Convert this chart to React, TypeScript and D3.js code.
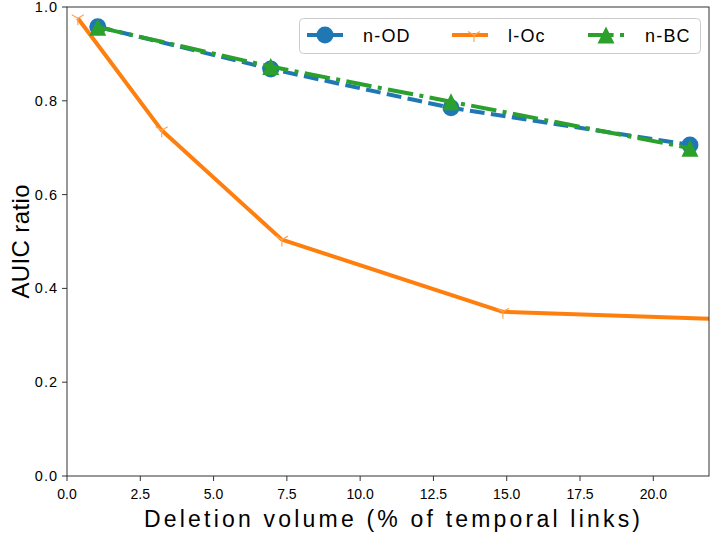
import React from "react";
import * as d3 from "d3";

const odX = [1.05, 6.95, 13.1, 21.25];
const odY = [0.958, 0.868, 0.785, 0.706];
const ocX = [0.37, 3.23, 7.33, 14.87, 25.0];
const ocY = [0.976, 0.737, 0.504, 0.35, 0.329];
const bcX = [1.05, 6.95, 13.1, 21.25];
const bcY = [0.957, 0.873, 0.798, 0.699];
const xTicks = [0, 2.5, 5, 7.5, 10, 12.5, 15, 17.5, 20];
const yTicks = [0, 0.2, 0.4, 0.6, 0.8, 1.0];
const seriesNames = ["n-OD", "l-Oc", "n-BC"];
const colors = ["#1f77b4", "#ff7f0e", "#2ca02c"];

const W = 714, H = 536;
const L = 67, R = 709, T = 7, B = 476;
const FONT = "'Liberation Sans', Arial, sans-serif";

function triDown(cx: number, cy: number, s: number) {
  const a = Math.cos(Math.PI / 6) * s, b = 0.5 * s;
  return `M${cx},${cy}L${cx},${cy + s}M${cx},${cy}L${cx - a},${cy - b}M${cx},${cy}L${cx + a},${cy - b}`;
}
function triUp(cx: number, cy: number, s: number) {
  return `M${cx},${cy - s}L${cx - s},${cy + s}L${cx + s},${cy + s}Z`;
}

export default function App() {
  const x = d3.scaleLinear().domain([0, 21.9]).range([L, R]);
  const y = d3.scaleLinear().domain([0, 1]).range([B, T]);
  const line = d3.line<[number, number]>().x(d => x(d[0])).y(d => y(d[1]));
  const od = odX.map((v, i) => [v, odY[i]] as [number, number]);
  const oc = ocX.map((v, i) => [v, ocY[i]] as [number, number]);
  const bc = bcX.map((v, i) => [v, bcY[i]] as [number, number]);
  const lw = 4;
  const blueDash = `${3.7 * lw},${1.6 * lw}`;
  const greenDash = `${6.4 * lw},${1.6 * lw},${1 * lw},${1.6 * lw}`;
  const axisColor = "#333";

  const legX = [307, 452, 588];
  const legTextX = [363, 508, 645];
  const legY = 35;

  return (
    <svg width={W} height={H} style={{ position: "absolute", left: 0, top: 0, background: "#fff" }} fontFamily={FONT}>
      <defs>
        <clipPath id="plotclip">
          <rect x={L} y={T - 12} width={R - L} height={B - T + 24} />
        </clipPath>
        <clipPath id="plotclip2">
          <rect x={L} y={T} width={R - L} height={B - T} />
        </clipPath>
      </defs>
      <rect x={0} y={0} width={W} height={H} fill="#fff" />
      {/* ticks */}
      {xTicks.map(t => (
        <g key={"x" + t}>
          <line x1={x(t)} x2={x(t)} y1={B} y2={B + 5} stroke={axisColor} strokeWidth={1} />
          <text x={x(t)} y={499} fontSize={14} textAnchor="middle" fill="#000">{t.toFixed(1)}</text>
        </g>
      ))}
      {yTicks.map(t => (
        <g key={"y" + t}>
          <line x1={L - 5} x2={L} y1={y(t)} y2={y(t)} stroke={axisColor} strokeWidth={1} />
          <text x={L - 9} y={y(t) + 5} fontSize={14.5} letterSpacing={1} textAnchor="end" fill="#000">{t.toFixed(1)}</text>
        </g>
      ))}
      {/* lines */}
      <g clipPath="url(#plotclip2)">
        <path d={line(oc) || ""} fill="none" stroke={colors[1]} strokeWidth={lw} strokeLinejoin="round" />
      </g>
      <g clipPath="url(#plotclip)">
        {oc.map((p, i) => (
          <path key={"oc" + i} d={triDown(x(p[0]), y(p[1]), 7)} stroke="#ffa655" strokeWidth={1.2} fill="none" />
        ))}
        <path d={line(od) || ""} fill="none" stroke={colors[0]} strokeWidth={lw} strokeDasharray={blueDash} />
        {od.map((p, i) => (
          <circle key={"od" + i} cx={x(p[0])} cy={y(p[1])} r={8.5} fill={colors[0]} />
        ))}
        <path d={line(bc) || ""} fill="none" stroke={colors[2]} strokeWidth={lw} strokeDasharray={greenDash} />
        {bc.map((p, i) => (
          <path key={"bc" + i} d={triUp(x(p[0]), y(p[1]), 8.5)} fill={colors[2]} />
        ))}
      </g>
      {/* frame */}
      <rect x={L} y={T} width={R - L} height={B - T} fill="none" stroke={axisColor} strokeWidth={1} />
      {/* legend */}
      <rect x={299.5} y={18.5} width={401} height={35} rx={4} fill="#fff" fillOpacity={0.8} stroke="#ccc" strokeWidth={1} />
      {seriesNames.map((n, i) => (
        <g key={"leg" + n}>
          <line x1={legX[i]} x2={legX[i] + 36} y1={legY} y2={legY} stroke={colors[i]} strokeWidth={lw}
            strokeDasharray={i === 0 ? blueDash : i === 2 ? greenDash : undefined} />
          {i === 0 && <circle cx={legX[i] + 18} cy={legY} r={8.5} fill={colors[0]} />}
          {i === 1 && <path d={triDown(legX[i] + 22, legY, 7)} stroke="#ffa655" strokeWidth={1.2} fill="none" />}
          {i === 2 && <path d={triUp(legX[i] + 18, legY, 8.5)} fill={colors[2]} />}
          <text x={legTextX[i]} y={legY + 7} fontSize={18} letterSpacing={1.2} fill="#000">{n}</text>
        </g>
      ))}
      {/* axis labels */}
      <text x={(L + R) / 2 + 4} y={527} fontSize={23} textAnchor="middle" textLength={496} lengthAdjust="spacing" fill="#000">
        Deletion volume (% of temporal links)
      </text>
      <text transform={`translate(29,${(T + B) / 2}) rotate(-90)`} fontSize={24} textAnchor="middle" textLength={114} lengthAdjust="spacing" fill="#000">
        AUIC ratio
      </text>
    </svg>
  );
}
